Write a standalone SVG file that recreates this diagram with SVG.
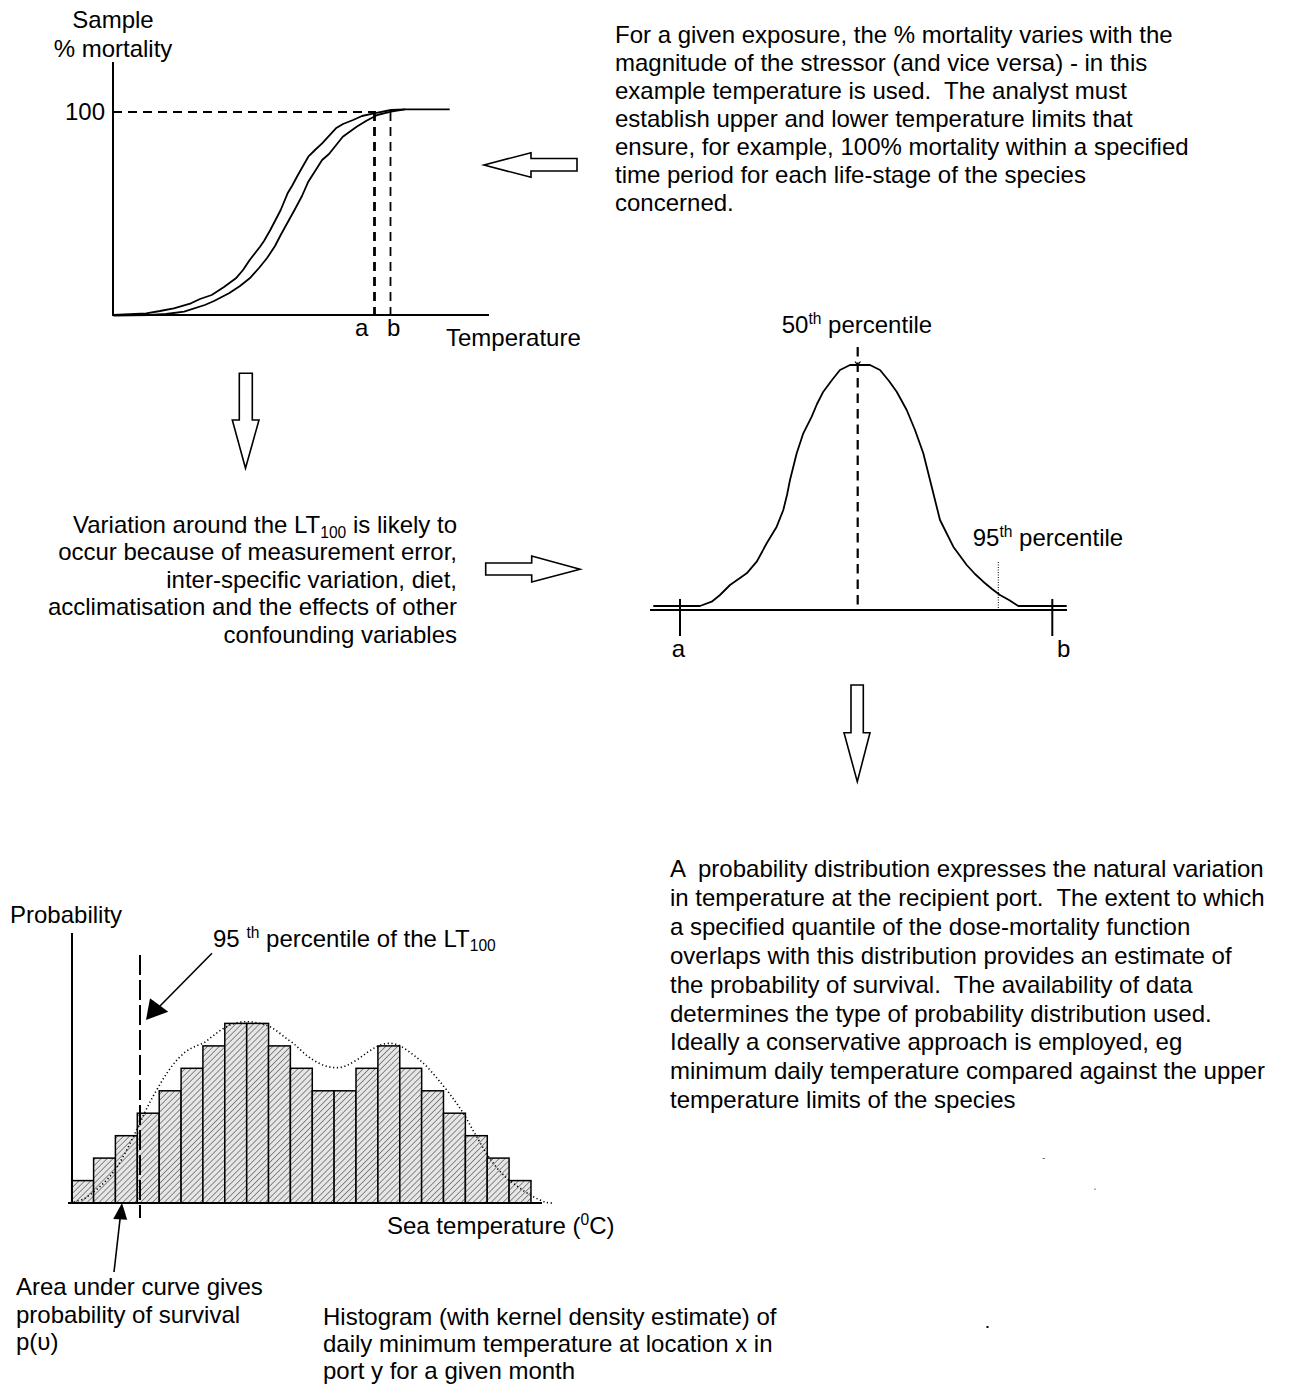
<svg xmlns="http://www.w3.org/2000/svg" width="1295" height="1385" viewBox="0 0 1295 1385">
<defs>
<style>
text{font-family:"Liberation Sans",Arial,sans-serif;font-size:24px;fill:#000;white-space:pre}
.ax{stroke:#000;stroke-width:2;fill:none}
.crv{stroke:#000;stroke-width:1.8;fill:none;stroke-linejoin:round}
.dash{stroke:#000;stroke-width:2.2;fill:none;stroke-dasharray:9 6}
.blk{fill:#fff;stroke:#000;stroke-width:1.6;stroke-linejoin:miter}
.bar{fill:url(#hatch);stroke:#000;stroke-width:1.5}
.dot{stroke:#000;stroke-width:1.6;fill:none;stroke-dasharray:1.2 2.6}
.ptr{stroke:#000;stroke-width:1.6;fill:none}
</style>
<pattern id="hatch" width="4.2" height="4.2" patternUnits="userSpaceOnUse" patternTransform="rotate(45)">
<rect width="4.2" height="4.2" fill="#e6e6e6"/>
<line x1="0" y1="0" x2="0" y2="4.2" stroke="#555" stroke-width="1.3"/>
</pattern>
</defs>
<rect width="1295" height="1385" fill="#fff"/>

<g id="dose-mortality-chart">
<text x="113" y="28" text-anchor="middle">Sample</text>
<text x="113" y="57" text-anchor="middle">% mortality</text>
<text x="105" y="120" text-anchor="end">100</text>
<path class="ax" d="M113,62 V315 H489"/>
<path class="dash" d="M113,112 H376"/>
<path class="dash" d="M374.5,112 V315" style="stroke-width:2.8"/>
<path class="dash" d="M390.5,112 V315" style="stroke-width:1.8"/>
<polyline class="crv" points="113.4,315 146.2,313.3 160,311 173.8,308.3 191,303.3 200,299 211.7,295 224,287 235.9,278.3 243,270 249.7,260 260,246.7 264,241 270.3,230 280.7,210 287.6,193.3 292,186 297.9,175 308.3,156.7 315,150 322.1,143.3 335.9,128.3 343,124 353.1,120 362,116 373.8,113.3 391,110 404.8,109.3 449.7,109.3"/>
<polyline class="crv" points="113.4,315.7 149.7,315 166,314 184.1,311.7 204.8,305 214,301 229,293.3 240,286 249.7,278.3 259,268 266.9,258.3 275,246 280.7,235 294.5,210 302,196 308.3,181.7 322.1,160 329,154 342.8,136.7 356.6,126.7 366,121 377.2,115 391,111.7 404.8,109.3"/>
<text x="355" y="336">a</text>
<text x="387" y="336">b</text>
<text x="446" y="346">Temperature</text>
</g>

<g id="text-dose-mortality">
<text x="615" y="43">For a given exposure, the % mortality varies with the</text>
<text x="615" y="71">magnitude of the stressor (and vice versa) - in this</text>
<text x="615" y="99">example temperature is used.  The analyst must</text>
<text x="615" y="127">establish upper and lower temperature limits that</text>
<text x="615" y="155">ensure, for example, 100% mortality within a specified</text>
<text x="615" y="183">time period for each life-stage of the species</text>
<text x="615" y="211">concerned.</text>
</g>

<g id="text-variation">
<text x="457" y="533" text-anchor="end">Variation around the LT<tspan font-size="15.6" dy="5">100</tspan><tspan dy="-5"> is likely to</tspan></text>
<text x="457" y="560" text-anchor="end">occur because of measurement error,</text>
<text x="457" y="588" text-anchor="end">inter-specific variation, diet,</text>
<text x="457" y="615" text-anchor="end">acclimatisation and the effects of other</text>
<text x="457" y="643" text-anchor="end">confounding variables</text>
</g>

<g id="lt100-distribution">
<text x="781.7" y="333"><tspan>50</tspan><tspan font-size="15.6" dy="-9">th</tspan><tspan dy="9"> percentile</tspan></text>
<path class="ax" d="M650,610 H1067"/>
<path class="ax" d="M680,599 V636 M1052.3,599 V636"/>
<path class="dash" d="M857.7,347 V608" style="stroke-width:2.2;stroke-dasharray:9.5 6"/>
<path d="M998.3,562 V609" style="stroke:#000;stroke-width:1;stroke-dasharray:1 1.5;fill:none"/>
<polyline class="crv" points="653.3,606 700,606 711.7,601.7 720,595 730,585 740,578 746.7,573.3 756.7,561.7 766.7,543.3 776.7,526.7 783.3,510 787,495 790,480 796.7,453.3 803.3,433.3 811.7,416.7 817,404 823.3,391.7 832,380 840,370 850,365 870,365 880,370 889,381 896.7,391.7 906.7,410 915,430 923.3,453.3 930,480 935,500 940,520 953.3,546.7 966.7,565 975,574 983.3,581.7 992,589 1000,595 1009,600 1018.3,606 1066.7,606"/>
<path d="M855,361.5 L857.7,365 L860.5,361.5" style="stroke:#000;stroke-width:1.2;fill:none"/>
<text x="972.7" y="546"><tspan>95</tspan><tspan font-size="15.6" dy="-9">th</tspan><tspan dy="9"> percentile</tspan></text>
<text x="671.7" y="657">a</text>
<text x="1057" y="657">b</text>
</g>

<g id="text-probability">
<text x="670" y="877">A  probability distribution expresses the natural variation</text>
<text x="670" y="906">in temperature at the recipient port.  The extent to which</text>
<text x="670" y="935">a specified quantile of the dose-mortality function</text>
<text x="670" y="964">overlaps with this distribution provides an estimate of</text>
<text x="670" y="993">the probability of survival.  The availability of data</text>
<text x="670" y="1022">determines the type of probability distribution used.</text>
<text x="670" y="1050">Ideally a conservative approach is employed, eg</text>
<text x="670" y="1079">minimum daily temperature compared against the upper</text>
<text x="670" y="1108">temperature limits of the species</text>
<rect x="843" y="1049" width="1" height="3" fill="#888"/>
<rect x="1042.5" y="1158" width="2.5" height="1" fill="#777"/>
<rect x="1094.5" y="1188.5" width="1" height="1.5" fill="#555"/>
<rect x="986.5" y="1326" width="2" height="2" fill="#000"/>
</g>

<g id="histogram">
<text x="10" y="923">Probability</text>
<g>
<rect class="bar" x="71.7" y="1180.6" width="21.87" height="22.4"/>
<rect class="bar" x="93.6" y="1158.1" width="21.87" height="44.9"/>
<rect class="bar" x="115.4" y="1135.7" width="21.87" height="67.3"/>
<rect class="bar" x="137.3" y="1113.2" width="21.87" height="89.8"/>
<rect class="bar" x="159.2" y="1090.8" width="21.87" height="112.2"/>
<rect class="bar" x="181.1" y="1068.3" width="21.87" height="134.7"/>
<rect class="bar" x="202.9" y="1045.9" width="21.87" height="157.1"/>
<rect class="bar" x="224.8" y="1023.4" width="21.87" height="179.6"/>
<rect class="bar" x="246.7" y="1023.4" width="21.87" height="179.6"/>
<rect class="bar" x="268.5" y="1045.9" width="21.87" height="157.1"/>
<rect class="bar" x="290.4" y="1068.3" width="21.87" height="134.7"/>
<rect class="bar" x="312.3" y="1090.8" width="21.87" height="112.2"/>
<rect class="bar" x="334.1" y="1090.8" width="21.87" height="112.2"/>
<rect class="bar" x="356" y="1068.3" width="21.87" height="134.7"/>
<rect class="bar" x="377.9" y="1045.9" width="21.87" height="157.1"/>
<rect class="bar" x="399.8" y="1068.3" width="21.87" height="134.7"/>
<rect class="bar" x="421.6" y="1090.8" width="21.87" height="112.2"/>
<rect class="bar" x="443.5" y="1113.2" width="21.87" height="89.8"/>
<rect class="bar" x="465.4" y="1135.7" width="21.87" height="67.3"/>
<rect class="bar" x="487.2" y="1158.1" width="21.87" height="44.9"/>
<rect class="bar" x="509.1" y="1180.6" width="21.87" height="22.4"/>
</g>
<path class="dot" d="M70,1203 C78,1201 82,1200 85,1198.3 C97,1190 106,1182 115,1170 C124,1157 130,1143 136.7,1130 C143,1116 149,1103 156.7,1090 C164,1077 171,1066 180,1056.7 C188,1049 195,1046 203.3,1043.3 C211,1038 218,1031 226.7,1026.7 C233,1023 240,1021.7 246.7,1021.7 C254,1021.7 262,1023.5 270,1026.7 C278,1031 285,1038 293.3,1043.3 C300,1049 306,1056 313.3,1060 C321,1065 329,1067.7 336.7,1067.7 C344,1067.7 350,1064 356.7,1060 C364,1055 370,1050 376.7,1046.7 C381,1044.5 386,1043.3 390,1043.3 C396,1043.3 401,1046 406.7,1050 C415,1056 423,1062 430,1070 C437,1078 441,1083 446.7,1090 C453,1098 458,1105 463.3,1113.3 C468,1121 472,1129 476.7,1136.7 C482,1146 487,1155 493.3,1163.3 C499,1171 505,1177 513.3,1183.3 C522,1190 531,1196 540,1200 C544,1202 547,1203 552,1203"/>
<path d="M140,955 V1218" style="stroke:#000;stroke-width:2;fill:none;stroke-dasharray:20 5"/>
<path class="ax" d="M72,933 V1203 M68,1203 H542"/>
<text x="213" y="947"><tspan>95 </tspan><tspan font-size="15.6" dy="-9">th</tspan><tspan dy="9"> percentile of the LT</tspan><tspan font-size="15.6" dy="4">100</tspan></text>
<text x="387" y="1234">Sea temperature (<tspan font-size="15.6" dy="-9">0</tspan><tspan dy="9">C)</tspan></text>
<text x="16" y="1295">Area under curve gives</text>
<text x="16" y="1323">probability of survival</text>
<text x="16" y="1350">p(υ)</text>
<text x="323" y="1325">Histogram (with kernel density estimate) of</text>
<text x="323" y="1352">daily minimum temperature at location x in</text>
<text x="323" y="1379">port y for a given month</text>
</g>

<g id="connectors">
<polygon class="blk" points="484,165 531,152.7 531,158.5 577,158.5 577,171 531,171 531,177.3"/>
<polygon class="blk" points="239.3,373.3 252.3,373.3 252.3,420 259,420 245.5,468.3 232.3,420 239.3,420"/>
<polygon class="blk" points="485.7,563 531.7,563 531.7,556 580,569.3 531.7,582 531.7,575 485.7,575"/>
<polygon class="blk" points="851,685 863.3,685 863.3,732.7 870,732.7 857.3,781.7 844,732.7 851,732.7"/>
<line class="ptr" x1="212" y1="953.3" x2="158" y2="1008"/>
<polygon points="146,1020 150,998.3 168.3,1011.7" fill="#000"/>
<line class="ptr" x1="114" y1="1272" x2="120.5" y2="1215"/>
<polygon points="122,1203 113.2,1219 127.2,1219.8" fill="#000"/>
</g>
</svg>
